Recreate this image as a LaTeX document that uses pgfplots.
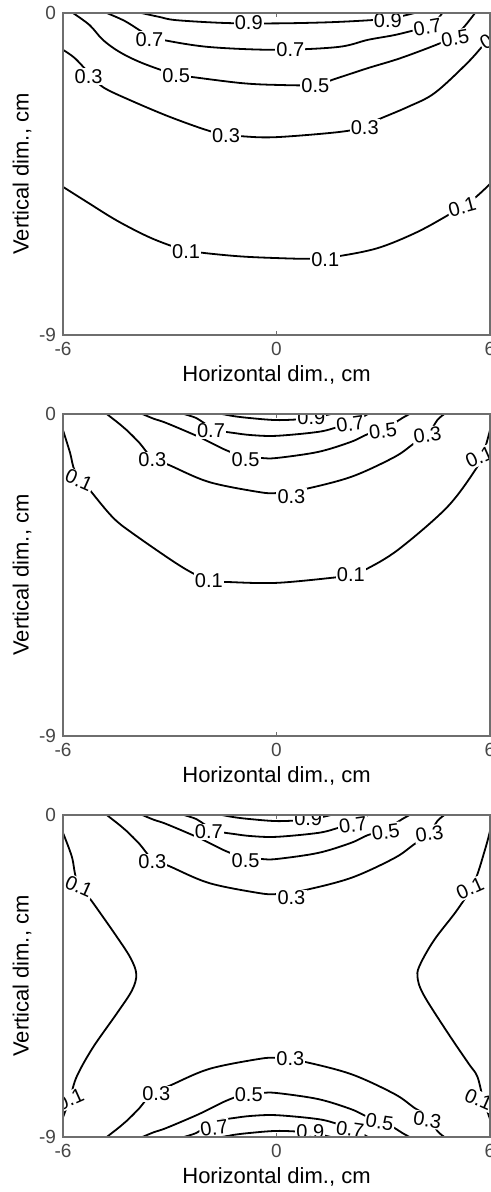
\documentclass[border=0pt]{standalone}
\usepackage{fontspec}
\setmainfont{Liberation Sans}
\usepackage{pgfplots}
\pgfplotsset{compat=1.18}
\definecolor{axgray}{RGB}{110,110,110}
\definecolor{tickgray}{RGB}{70,70,70}

\pgfplotsset{
  contourpanel/.style={
    width=213.5pt, height=161pt, scale only axis,
    xmin=-6, xmax=6, ymin=-9, ymax=0,
    xtick={-6,0,6}, ytick={-9,0},
    tick align=inside, major tick length=2pt,
    axis line style={axgray, line width=0.8pt},
    every tick/.style={axgray, line width=0.6pt},
    tick label style={font=\fontsize{9.5}{9.5}\selectfont, text=tickgray},
    /pgf/number format/assume math mode=true,
    xlabel={Horizontal dim., cm}, ylabel={Vertical dim., cm},
    label style={font=\fontsize{11}{11}\selectfont},
    xlabel style={at={(axis description cs:0.5,-0.124)}, anchor=center},
    ylabel style={at={(axis description cs:-0.096,0.5)}, anchor=center},
    axis on top,
  },
  cline/.style={black, line width=0.9pt, smooth, tension=0.55},
}
\tikzset{clab/.style={fill=white, inner sep=0.6pt, font=\fontsize{10}{10}\selectfont}}

\begin{document}
\begin{tikzpicture}
\path[use as bounding box] (-31.5pt,6.5pt) rectangle (214pt,-589.5pt);

% ---------- panel 1 ----------
\begin{axis}[contourpanel, at={(0,0)}, anchor=north west]
\addplot[cline] coordinates {(-3.80,0) (-3.29,-0.11) (-2.82,-0.20) (-1.42,-0.28) (0,-0.29) (1.45,-0.26) (2.65,-0.20) (3.27,-0.14) (3.88,0)};
\addplot[cline] coordinates {(-4.77,0) (-4.27,-0.22) (-3.85,-0.48) (-3.57,-0.64) (-3.21,-0.75) (-1.90,-0.95) (0,-1.03) (1.73,-0.95) (2.57,-0.75) (3.30,-0.62) (3.88,-0.48) (4.24,-0.38) (4.50,-0.20) (4.66,0)};
\addplot[cline] coordinates {(-5.72,0) (-5.25,-0.34) (-4.88,-0.75) (-4.41,-1.09) (-3.77,-1.40) (-2.82,-1.73) (-2.37,-1.79) (-0.98,-1.96) (0,-2.01) (1.09,-2.01) (1.65,-1.84) (2.57,-1.54) (3.49,-1.26) (4.61,-0.84) (5.02,-0.62) (5.27,-0.39) (5.58,0)};
\addplot[cline] coordinates {(-6,-1.03) (-5.67,-1.26) (-5.25,-1.70) (-4.88,-2.07) (-4.13,-2.43) (-2.93,-2.93) (-1.70,-3.35) (-0.90,-3.45) (0,-3.47) (1.73,-3.33) (2.48,-3.19) (2.76,-3.02) (3.68,-2.63) (4.44,-2.24) (5.36,-1.40) (5.86,-0.84) (6,-0.65)};
\addplot[cline] coordinates {(-6,-4.86) (-5.30,-5.30) (-4.49,-5.80) (-3.57,-6.27) (-2.74,-6.58) (-2.18,-6.69) (-1.06,-6.80) (0,-6.85) (1.03,-6.87) (1.73,-6.80) (2.85,-6.57) (3.96,-6.12) (4.94,-5.58) (5.50,-5.23) (6,-4.78)};
\node[clab] at (axis cs:-0.78,-0.28) {0.9};
\node[clab] at (axis cs:3.13,-0.20) {0.9};
\node[clab] at (axis cs:-3.57,-0.74) {0.7};
\node[clab] at (axis cs:0.39,-1.03) {0.7};
\node[clab, rotate=10] at (axis cs:4.24,-0.40) {0.7};
\node[clab] at (axis cs:-2.82,-1.76) {0.5};
\node[clab] at (axis cs:1.09,-2.03) {0.5};
\node[clab, rotate=10] at (axis cs:5.02,-0.70) {0.5};
\node[clab] at (axis cs:-5.28,-1.78) {0.3};
\node[clab] at (axis cs:-1.42,-3.44) {0.3};
\node[clab] at (axis cs:2.48,-3.19) {0.3};
\node[clab, rotate=30] at (axis cs:6.10,-0.68) {0.3};
\node[clab] at (axis cs:-2.54,-6.66) {0.1};
\node[clab] at (axis cs:1.37,-6.89) {0.1};
\node[clab, rotate=15] at (axis cs:5.22,-5.42) {0.1};
\end{axis}

% ---------- panel 2 ----------
\begin{axis}[contourpanel, at={(0,-200.5pt)}, anchor=north west]
\addplot[cline] coordinates {(-1.53,0) (-1.20,-0.06) (-0.78,-0.11) (0,-0.17) (0.75,-0.14) (1.17,-0.08) (1.53,0)};
\addplot[cline] coordinates {(-2.60,0) (-2.26,-0.11) (-2.04,-0.25) (-1.67,-0.45) (-1.20,-0.53) (-0.70,-0.59) (0,-0.61) (1.17,-0.50) (1.73,-0.36) (2.15,-0.22) (2.57,0)};
\addplot[cline] coordinates {(-3.77,0) (-3.43,-0.14) (-3.10,-0.25) (-2.18,-0.64) (-1.42,-1.01) (-0.87,-1.20) (-0.42,-1.23) (0,-1.23) (1.17,-1.06) (2.09,-0.78) (2.57,-0.56) (2.99,-0.45) (3.32,-0.25) (3.54,-0.11) (3.74,0)};
\addplot[cline] coordinates {(-4.77,0) (-4.41,-0.28) (-4.21,-0.45) (-3.85,-0.81) (-3.49,-1.23) (-3.01,-1.43) (-1.90,-1.90) (-0.50,-2.18) (0,-2.21) (0.70,-2.12) (2.09,-1.76) (3.32,-1.20) (3.88,-0.81) (4.24,-0.59) (4.52,-0.17) (4.72,0)};
\addplot[cline] coordinates {(-6,-0.45) (-5.80,-1.09) (-5.66,-1.60) (-5.25,-2.12) (-4.61,-2.88) (-4.05,-3.33) (-2.65,-4.28) (-1.90,-4.64) (-1.26,-4.70) (0,-4.72) (1.54,-4.58) (2.09,-4.50) (2.48,-4.36) (3.41,-3.80) (4.80,-2.60) (5.64,-1.48) (5.83,-1.05) (6,-0.45)};
\node[clab] at (axis cs:0.98,-0.10) {0.9};
\node[clab] at (axis cs:-1.84,-0.47) {0.7};
\node[clab, rotate=8] at (axis cs:2.07,-0.28) {0.7};
\node[clab] at (axis cs:-0.87,-1.27) {0.5};
\node[clab, rotate=8] at (axis cs:2.99,-0.47) {0.5};
\node[clab] at (axis cs:-3.49,-1.28) {0.3};
\node[clab] at (axis cs:0.42,-2.30) {0.3};
\node[clab, rotate=8] at (axis cs:4.24,-0.59) {0.3};
\node[clab, rotate=-24] at (axis cs:-5.55,-1.85) {0.1};
\node[clab] at (axis cs:-1.90,-4.66) {0.1};
\node[clab] at (axis cs:2.09,-4.50) {0.1};
\node[clab, rotate=24] at (axis cs:5.70,-1.20) {0.1};
\end{axis}

% ---------- panel 3 ----------
\begin{axis}[contourpanel, at={(0,-401pt)}, anchor=north west]
\addplot[cline] coordinates {(-1.53,0) (-1.20,-0.06) (-0.78,-0.11) (0,-0.17) (0.75,-0.14) (1.17,-0.08) (1.53,0)};
\addplot[cline] coordinates {(-2.60,0) (-2.26,-0.11) (-2.04,-0.25) (-1.67,-0.45) (-1.20,-0.53) (-0.70,-0.59) (0,-0.61) (1.17,-0.50) (1.73,-0.36) (2.15,-0.22) (2.57,0)};
\addplot[cline] coordinates {(-3.77,0) (-3.43,-0.14) (-3.10,-0.25) (-2.18,-0.64) (-1.42,-1.01) (-0.87,-1.20) (-0.42,-1.23) (0,-1.23) (1.17,-1.06) (2.09,-0.78) (2.57,-0.56) (2.99,-0.45) (3.32,-0.25) (3.54,-0.11) (3.74,0)};
\addplot[cline] coordinates {(-4.77,0) (-4.41,-0.28) (-4.21,-0.45) (-3.85,-0.81) (-3.49,-1.23) (-3.01,-1.43) (-1.90,-1.90) (-0.50,-2.18) (0,-2.21) (0.70,-2.12) (2.09,-1.76) (3.32,-1.20) (3.88,-0.81) (4.24,-0.59) (4.52,-0.17) (4.72,0)};
\addplot[cline] coordinates {(-4.77,-9) (-4.41,-8.72) (-4.21,-8.55) (-3.85,-8.19) (-3.49,-7.77) (-3.01,-7.57) (-1.90,-7.10) (-0.50,-6.82) (0,-6.79) (0.70,-6.88) (2.09,-7.24) (3.32,-7.80) (3.88,-8.19) (4.24,-8.41) (4.52,-8.83) (4.72,-9)};
\addplot[cline] coordinates {(-3.77,-9) (-3.43,-8.86) (-3.10,-8.75) (-2.18,-8.36) (-1.42,-7.99) (-0.87,-7.80) (-0.42,-7.77) (0,-7.77) (1.17,-7.94) (2.09,-8.22) (2.57,-8.44) (2.99,-8.55) (3.32,-8.75) (3.54,-8.89) (3.74,-9)};
\addplot[cline] coordinates {(-2.60,-9) (-2.26,-8.89) (-2.04,-8.75) (-1.67,-8.55) (-1.20,-8.47) (-0.70,-8.41) (0,-8.39) (1.17,-8.50) (1.73,-8.64) (2.15,-8.78) (2.57,-9)};
\addplot[cline] coordinates {(-1.53,-9) (-1.20,-8.94) (-0.78,-8.89) (0,-8.83) (0.75,-8.86) (1.17,-8.92) (1.53,-9)};
\addplot[cline] coordinates {(-6,-0.50) (-5.75,-1.17) (-5.60,-1.85) (-5.16,-2.45) (-4.49,-3.40) (-4.10,-4.00) (-3.94,-4.45) (-4.06,-4.90) (-4.49,-5.55) (-5.16,-6.50) (-5.61,-7.30) (-5.80,-7.90) (-6,-8.45)};
\addplot[cline] coordinates {(6,-0.45) (5.85,-1.00) (5.55,-1.90) (5.08,-2.65) (4.44,-3.48) (4.05,-4.15) (3.96,-4.50) (4.12,-5.00) (4.80,-6.07) (5.40,-6.95) (5.64,-7.30) (5.80,-7.90) (6,-8.50)};
\node[clab] at (axis cs:0.89,-0.10) {0.9};
\node[clab] at (axis cs:-1.90,-0.47) {0.7};
\node[clab, rotate=8] at (axis cs:2.15,-0.28) {0.7};
\node[clab] at (axis cs:-0.87,-1.27) {0.5};
\node[clab, rotate=8] at (axis cs:3.07,-0.47) {0.5};
\node[clab] at (axis cs:-3.49,-1.31) {0.3};
\node[clab] at (axis cs:0.42,-2.32) {0.3};
\node[clab, rotate=8] at (axis cs:4.30,-0.52) {0.3};
\node[clab] at (axis cs:0.39,-6.82) {0.3};
\node[clab] at (axis cs:-3.38,-7.80) {0.3};
\node[clab] at (axis cs:-0.78,-7.82) {0.5};
\node[clab, rotate=8] at (axis cs:-1.75,-8.75) {0.7};
\node[clab] at (axis cs:0.95,-8.86) {0.9};
\node[clab, rotate=-8] at (axis cs:2.07,-8.78) {0.7};
\node[clab, rotate=-8] at (axis cs:2.90,-8.58) {0.5};
\node[clab, rotate=-8] at (axis cs:4.24,-8.52) {0.3};
\node[clab, rotate=-24] at (axis cs:-5.55,-2.00) {0.1};
\node[clab, rotate=24] at (axis cs:-5.80,-7.95) {0.1};
\node[clab, rotate=24] at (axis cs:5.44,-2.05) {0.1};
\node[clab, rotate=-24] at (axis cs:5.68,-7.95) {0.1};
\end{axis}
\end{tikzpicture}
\end{document}
